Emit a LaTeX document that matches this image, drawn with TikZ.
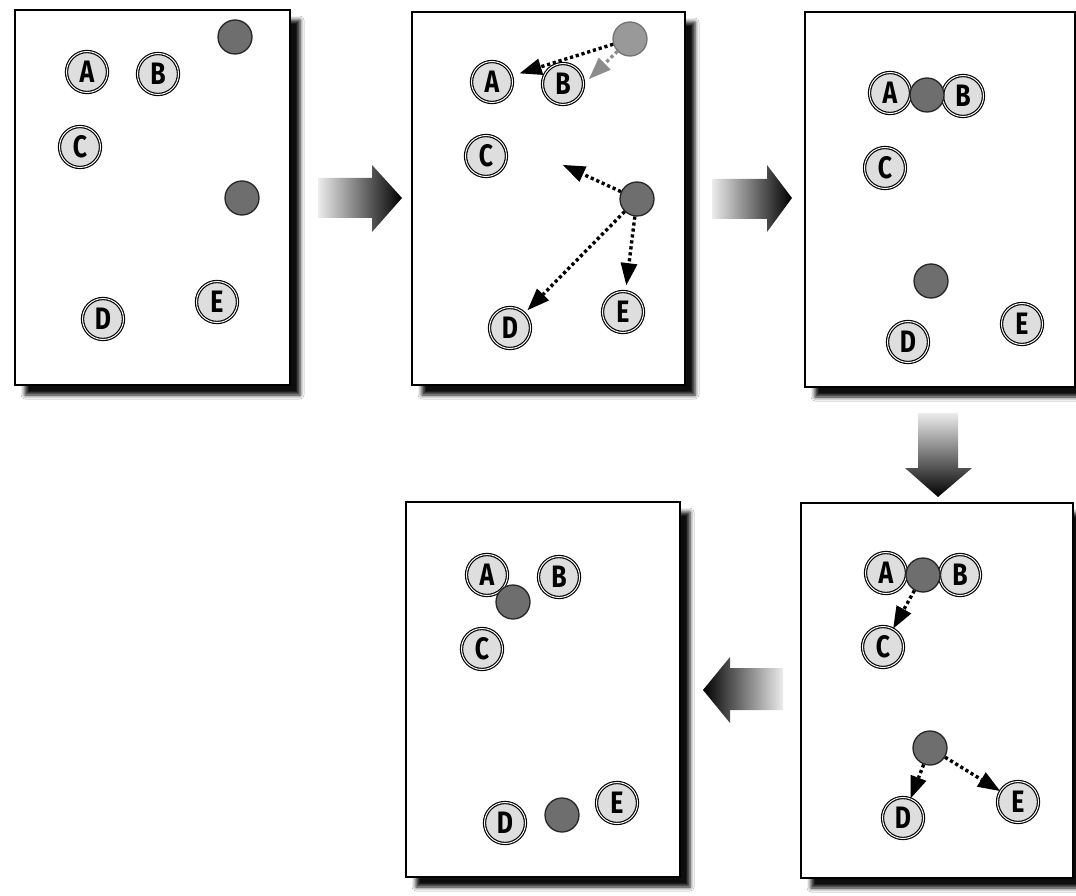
\documentclass[tikz,border=0pt]{standalone}
\usepackage{fontspec}
\newfontfamily\lbl{Fira Sans}[FakeStretch=0.8]
\usetikzlibrary{arrows.meta,shadows.blur}
\tikzset{
  pt/.style={circle, draw=black, line width=1.15pt, double=white, double distance=1pt,
    fill=black!13, minimum size=41pt, inner sep=0pt,
    font=\lbl\bfseries\fontsize{31}{31}\selectfont},
  ctr/.style={circle, draw=black!85, line width=1.3pt, fill=black!57, minimum size=34pt, inner sep=0pt},
  ctrlight/.style={ctr, draw=black!55, fill=black!40},
  frame/.style={draw=black, line width=1.9pt, fill=white,
    blur shadow={shadow xshift=10pt, shadow yshift=-10pt, shadow blur radius=4pt, shadow opacity=95}},
  mv/.style={draw=#1, line width=3.4pt, dash pattern=on 3.2pt off 2.8pt,
    -{Triangle[length=22pt,width=17pt,line width=0pt,color=#1,fill=#1]}},
  mv/.default=black,
  bigright/.style={left color=gray!15, right color=black},
  bigleft/.style={left color=black, right color=gray!15},
  bigdown/.style={top color=gray!15, bottom color=black}
}
\begin{document}
\begin{tikzpicture}[x=1pt,y=-1pt]
\useasboundingbox[fill=white] (0,0) rectangle (1076,896);

% ---------- frames ----------
\draw[frame] (15,10) rectangle (290,385);
\draw[frame] (412,12) rectangle (685,385);
\draw[frame] (805,12) rectangle (1075,387);
\draw[frame] (801,503) rectangle (1073,878);
\draw[frame] (406,502) rectangle (680,877);

% ---------- big arrows ----------
\shade[bigright] (318,178) -- (372,178) -- (372,165) -- (402,198) -- (372,232) -- (372,218) -- (318,218) -- cycle;
\shade[bigright] (712,179) -- (767,179) -- (767,165) -- (792,198) -- (767,232) -- (767,219) -- (712,219) -- cycle;
\shade[bigdown] (918,413) -- (958,413) -- (958,468) -- (972,468) -- (938,497) -- (905,468) -- (918,468) -- cycle;
\shade[bigleft] (783,668) -- (730,668) -- (730,657) -- (703,690) -- (730,723) -- (730,710) -- (783,710) -- cycle;

% ---------- panel 1 ----------
\node[pt] (p1A) at (87,72) {A};
\node[pt] (p1B) at (158,74) {B};
\node[pt] (p1C) at (80,147) {C};
\node[pt] (p1D) at (103,319) {D};
\node[pt] (p1E) at (217,302) {E};
\node[ctr] (p1k1) at (235,37) {};
\node[ctr] (p1k2) at (242,198) {};

% ---------- panel 2 ----------
\node[pt] (p2A) at (492,82) {A};
\node[pt] (p2B) at (563,84) {B};
\node[pt] (p2C) at (486,156) {C};
\node[pt] (p2D) at (510,328) {D};
\node[pt] (p2E) at (623,312) {E};
\node[ctrlight] (p2k1) at (630,39) {};
\node[ctr] (p2k2) at (637,199) {};
\coordinate (p2tB) at (589,79);
\coordinate (p2tC) at (563,165);
\draw[mv, shorten >=8pt] (p2k1) -- (p2A);
\draw[mv=black!45] (p2k1) -- (p2tB);
\draw[mv] (p2k2) -- (p2tC);
\draw[mv, shorten >=4pt] (p2k2) -- (p2D);
\draw[mv, shorten >=6pt] (p2k2) -- (p2E);

% ---------- panel 3 ----------
\node[pt] (p3A) at (890,93) {A};
\node[pt] (p3B) at (963,96) {B};
\node[pt] (p3C) at (885,168) {C};
\node[pt] (p3D) at (908,342) {D};
\node[pt] (p3E) at (1022,324) {E};
\node[ctr] (p3k1) at (927,95) {};
\node[ctr] (p3k2) at (931,281) {};

% ---------- panel 4 ----------
\node[pt] (p4A) at (886,573) {A};
\node[pt] (p4B) at (960,575) {B};
\node[pt] (p4C) at (883,647) {C};
\node[pt] (p4D) at (903,818) {D};
\node[pt] (p4E) at (1018,802) {E};
\node[ctr] (p4k1) at (923,575) {};
\node[ctr] (p4k2) at (930,748) {};
\draw[mv] (p4k1) -- (p4C);
\draw[mv] (p4k2) -- (p4D);
\draw[mv] (p4k2) -- (p4E);

% ---------- panel 5 ----------
\node[pt] (p5A) at (487,575) {A};
\node[pt] (p5B) at (559,577) {B};
\node[pt] (p5C) at (482,649) {C};
\node[pt] (p5D) at (505,823) {D};
\node[pt] (p5E) at (617,803) {E};
\node[ctr] (p5k1) at (513,602) {};
\node[ctr] (p5k2) at (562,815) {};
\end{tikzpicture}
\end{document}
